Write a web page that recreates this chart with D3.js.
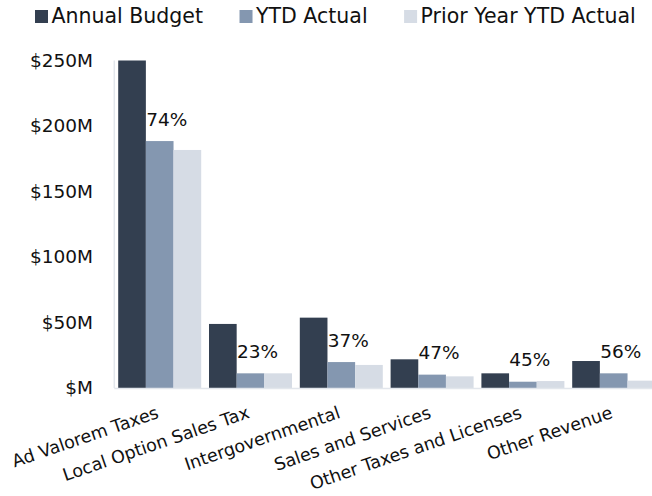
<!doctype html>
<html>
  <head>
    <style>
      body { margin: 0; background: #fff; }
      svg text { font-family: 'DejaVu Sans', sans-serif; fill: #111; }
    </style>
  </head>
  <body>
    <svg id='chart0'></svg>

    <script src='https://d3js.org/d3.v7.min.js'></script>
    <script>
      // revenue categories and the three series, in $M
      const categories = ['Ad Valorem Taxes', 'Local Option Sales Tax', 'Intergovernmental',
                          'Sales and Services', 'Other Taxes and Licenses', 'Other Revenue'];
      const series = ['Annual Budget', 'YTD Actual', 'Prior Year YTD Actual'];
      const annual_budget = [250, 48.9, 53.7, 21.9, 11.2, 20.6];
      const ytd_actual = [188.5, 11.2, 19.8, 10.2, 4.8, 11.2];
      const prior_ytd_actual = [181.7, 11.2, 17.6, 8.9, 5.3, 5.6];
      const pct_labels = ['74%', '23%', '37%', '47%', '45%', '56%'];
      const y_ticks = [0, 50, 100, 150, 200, 250];

      const colors = ['#333f50', '#8497b0', '#d6dce5'];
      const width = 652;
      const height = 496;

      const rows = categories.map((c, i) => ({
          name: c,
          values: [annual_budget[i], ytd_actual[i], prior_ytd_actual[i]],
          pct: pct_labels[i]
      }));

      const svg = d3.select('svg#chart0')
                    .attr('width', width)
                    .attr('height', height);

      // plot runs slightly past the right edge, like the original
      const x0 = d3.scaleBand()
                   .domain(categories)
                   .range([114.3, 659.1])
                   .paddingInner(0.086)
                   .paddingOuter(0.043);
      const x1 = d3.scaleBand()
                   .domain(series)
                   .range([0, x0.bandwidth()]);
      const y = d3.scaleLinear()
                  .domain([0, 250])
                  .range([388, 60.5]);

      // light axis lines
      svg.append('line')
         .attr('x1', x0.range()[0]).attr('x2', x0.range()[0])
         .attr('y1', y(250)).attr('y2', y(0))
         .attr('stroke', '#e2e6ec').attr('stroke-width', 1.5);

      const groups = svg.selectAll('g.group')
                        .data(rows)
                        .join('g')
                        .attr('class', 'group')
                        .attr('transform', d => `translate(${x0(d.name)},0)`);

      groups.selectAll('rect')
            .data(d => d.values.map((v, j) => ({key: series[j], v: v, j: j})))
            .join('rect')
            .attr('x', d => x1(d.key))
            .attr('y', d => y(d.v))
            .attr('width', x1.bandwidth())
            .attr('height', d => y(0) - y(d.v))
            .attr('fill', d => colors[d.j]);

      svg.append('line')
         .attr('x1', x0.range()[0]).attr('x2', width)
         .attr('y1', y(0) + 0.5).attr('y2', y(0) + 0.5)
         .attr('stroke', '#e2e6ec').attr('stroke-width', 1.5);

      // percent of budget labels above the YTD bar
      groups.append('text')
            .attr('x', x1('YTD Actual') + x1.bandwidth() / 2 + 7)
            .attr('y', d => y(d.values[1]) - 15.5)
            .attr('text-anchor', 'middle')
            .attr('font-size', 18.5)
            .text(d => d.pct);

      // y axis
      const y_axis = svg.append('g')
                        .attr('transform', 'translate(96,0)')
                        .call(d3.axisLeft(y)
                                .tickValues(y_ticks)
                                .tickSize(0)
                                .tickPadding(3)
                                .tickFormat(d => '$' + (d === 0 ? '' : d) + 'M'));
      y_axis.select('.domain').remove();
      y_axis.selectAll('.tick text')
            .attr('font-size', 18.5)
            .attr('font-family', "'DejaVu Sans', sans-serif")
            .attr('fill', '#111');

      // rotated category labels, ending under each group centre
      svg.selectAll('text.cat')
         .data(categories)
         .join('text')
         .attr('class', 'cat')
         .attr('text-anchor', 'end')
         .attr('font-size', 17.5)
         .attr('transform', d => `translate(${x0(d) + x0.bandwidth() / 2},417.5) rotate(-19)`)
         .text(d => d);

      // legend
      const legend = svg.append('g');
      let lx = 35;
      series.forEach((s, i) => {
          legend.append('rect')
                .attr('x', lx).attr('y', 10)
                .attr('width', 13).attr('height', 13)
                .attr('fill', colors[i]);
          const t = legend.append('text')
                          .attr('x', lx + 16.5)
                          .attr('y', 23.3)
                          .attr('font-size', 20.5)
                          .text(s);
          lx += 16.5 + t.node().getComputedTextLength() + 36.5;
      });
    </script>
  </body>
</html>
